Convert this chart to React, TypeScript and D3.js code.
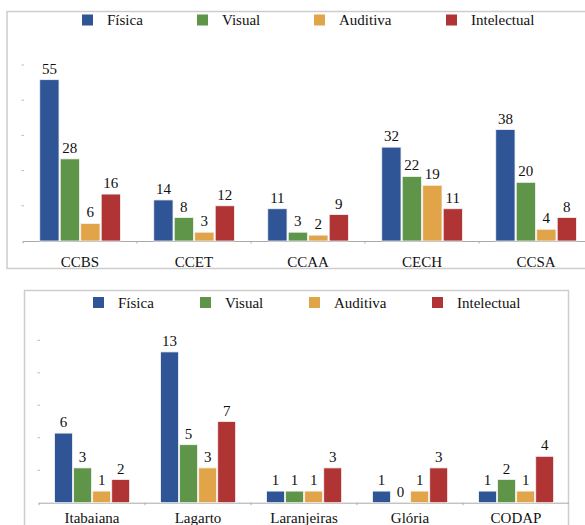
import React, { useEffect, useRef } from 'react';
import * as d3 from 'd3';

const series = ['Física', 'Visual', 'Auditiva', 'Intelectual'];
const colors = ['#2f5597', '#5f9548', '#e2a449', '#b03434'];

const topCategories = ['CCBS', 'CCET', 'CCAA', 'CECH', 'CCSA'];
const topValues = [
  [55, 28, 6, 16],
  [14, 8, 3, 12],
  [11, 3, 2, 9],
  [32, 22, 19, 11],
  [38, 20, 4, 8],
];

const bottomCategories = ['Itabaiana', 'Lagarto', 'Laranjeiras', 'Glória', 'CODAP'];
const bottomValues = [
  [6, 3, 1, 2],
  [13, 5, 3, 7],
  [1, 1, 1, 3],
  [1, 0, 1, 3],
  [1, 2, 1, 4],
];

const W = 585;
const H = 525;
const FONT = "'Liberation Serif', 'DejaVu Serif', serif";

interface PanelSpec {
  categories: string[];
  values: number[][];
  box: [number, number, number, number]; // x, y, w, h of frame
  legendY: number;
  legendX: number[];
  xRange: [number, number];
  yRange: [number, number];
  yMax: number;
  labelY: number;
}

const panels: PanelSpec[] = [
  {
    categories: topCategories,
    values: topValues,
    box: [7, 11.5, 600, 257],
    legendY: 14.5,
    legendX: [82, 197, 314, 446],
    xRange: [23, 593],
    yRange: [241, 65],
    yMax: 60,
    labelY: 267,
  },
  {
    categories: bottomCategories,
    values: bottomValues,
    box: [24.5, 290.5, 544, 260],
    legendY: 297,
    legendX: [93, 200, 309, 432],
    xRange: [39, 569],
    yRange: [502.7, 340.3],
    yMax: 14,
    labelY: 523,
  },
];

const App: React.FC = () => {
  const svgRef = useRef<SVGSVGElement>(null);

  useEffect(() => {
    if (!svgRef.current) return;
    const svg = d3.select(svgRef.current);
    svg.selectAll('*').remove();

    panels.forEach(p => {
      const g = svg.append('g');

      // Frame
      g.append('rect')
        .attr('x', p.box[0])
        .attr('y', p.box[1])
        .attr('width', p.box[2])
        .attr('height', p.box[3])
        .attr('fill', '#fff')
        .attr('stroke', '#cdcdcd')
        .attr('stroke-width', 1.5);

      // Legend
      const leg = g.append('g')
        .selectAll('g')
        .data(series)
        .enter()
        .append('g')
        .attr('transform', (_, i) => `translate(${p.legendX[i]},${p.legendY})`);
      leg.append('rect')
        .attr('width', 11)
        .attr('height', 11)
        .attr('fill', (_, i) => colors[i]);
      leg.append('text')
        .attr('x', 25)
        .attr('y', 10.5)
        .style('font-family', FONT)
        .attr('font-size', 15)
        .attr('fill', '#111')
        .text(d => d);

      const x = d3.scaleBand<string>().domain(p.categories).range(p.xRange);
      const bw = x.bandwidth();
      const xi = d3.scaleBand<string>()
        .domain(series)
        .range([bw * 0.147, bw * 0.855])
        .paddingInner(0.06);
      const y = d3.scaleLinear().domain([0, p.yMax]).range(p.yRange);

      // Y tick marks (no labels)
      const ticks = d3.range(1, 6).map(i => (p.yMax / 5) * i);
      g.append('g')
        .selectAll('line')
        .data(ticks)
        .enter()
        .append('line')
        .attr('x1', p.xRange[0] - 1.5)
        .attr('x2', p.xRange[0] + 1)
        .attr('y1', d => y(d))
        .attr('y2', d => y(d))
        .attr('stroke', '#bbb')
        .attr('stroke-width', 1);

      // Baseline + category ticks
      g.append('line')
        .attr('x1', p.xRange[0])
        .attr('x2', p.xRange[1])
        .attr('y1', y(0) + 0.5)
        .attr('y2', y(0) + 0.5)
        .attr('stroke', '#a9a9a9')
        .attr('stroke-width', 1);
      g.append('g')
        .selectAll('line')
        .data(p.categories)
        .enter()
        .append('line')
        .attr('x1', d => x(d)!)
        .attr('x2', d => x(d)!)
        .attr('y1', y(0))
        .attr('y2', y(0) + 2.5)
        .attr('stroke', '#aaa');

      // Bars
      const groups = g.append('g')
        .selectAll('g')
        .data(p.categories)
        .enter()
        .append('g')
        .attr('transform', d => `translate(${x(d)},0)`);

      groups.selectAll('rect')
        .data((_, ci) => p.values[ci].map((v, si) => ({ v, s: series[si], si })))
        .enter()
        .append('rect')
        .attr('x', d => xi(d.s)!)
        .attr('width', xi.bandwidth())
        .attr('y', d => y(d.v))
        .attr('height', d => y(0) - y(d.v))
        .attr('fill', d => colors[d.si])
        .attr('stroke', '#f4f4f4')
        .attr('stroke-width', 0.8);

      groups.selectAll('text')
        .data((_, ci) => p.values[ci].map((v, si) => ({ v, s: series[si] })))
        .enter()
        .append('text')
        .attr('x', d => xi(d.s)! + xi.bandwidth() / 2)
        .attr('y', d => y(d.v) - 6)
        .attr('text-anchor', 'middle')
        .style('font-family', FONT)
        .attr('font-size', 15)
        .attr('fill', '#111')
        .text(d => d.v);

      // Category labels
      g.append('g')
        .selectAll('text')
        .data(p.categories)
        .enter()
        .append('text')
        .attr('x', d => x(d)! + bw / 2)
        .attr('y', p.labelY)
        .attr('text-anchor', 'middle')
        .style('font-family', FONT)
        .attr('font-size', 15)
        .attr('fill', '#111')
        .text(d => d);
    });
  }, []);

  return (
    <div style={{ position: 'absolute', left: 0, top: 0, width: W, height: H, overflow: 'hidden', background: '#fff', fontFamily: FONT }}>
      <svg ref={svgRef} width={W} height={H} viewBox={`0 0 ${W} ${H}`} style={{ display: 'block', fontFamily: FONT }} />
    </div>
  );
};

export default App;
